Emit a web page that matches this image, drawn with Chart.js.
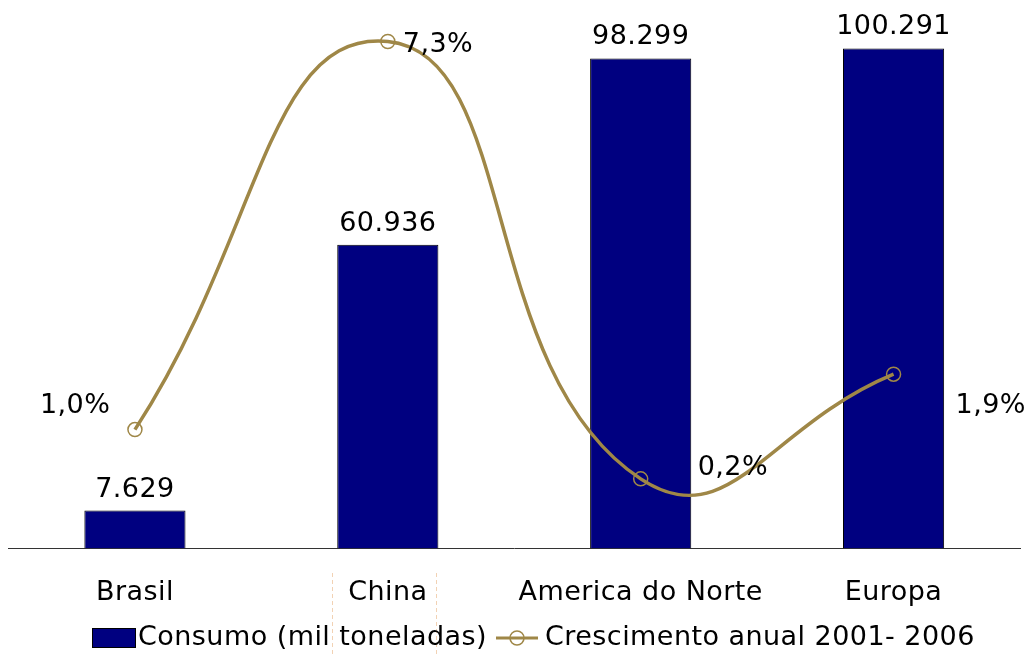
<!DOCTYPE html>
<html>
<head>
<meta charset="utf-8">
<script src="https://cdn.jsdelivr.net/npm/chart.js@4.4.0/dist/chart.umd.min.js"></script>
<style>
  body { margin: 0; background: #fff; }
  #c { display: block; }
</style>
</head>
<body>
<canvas id="c" width="1029" height="654"></canvas>
<script>
const regions = ["Brasil", "China", "America do Norte", "Europa"];
const consumo = [7629, 60936, 98299, 100291];
const crescimento = [1.0, 7.3, 0.2, 1.9];
const consumoLabels = ["7.629", "60.936", "98.299", "100.291"];
const crescimentoLabels = ["1,0%", "7,3%", "0,2%", "1,9%"];

// where each growth label sits relative to its point (text left edge, baseline)
const growthLabelOffsets = [[-95, -17], [15, 10], [57, -4], [62, 39]];

const FONT = '27px "DejaVu Sans"';
const GOLD = '#9F8747';
const NAVY = '#000080';
const SPACING = '0.45px';

const labelsPlugin = {
  id: 'valueLabels',
  beforeDraw(chart) {
    chart.ctx.letterSpacing = SPACING;
  },
  afterDatasetsDraw(chart) {
    const ctx = chart.ctx;
    ctx.save();
    ctx.letterSpacing = SPACING;
    ctx.font = FONT;
    ctx.fillStyle = '#000';
    ctx.textBaseline = 'alphabetic';
    // bar values
    const bars = chart.getDatasetMeta(1).data;
    bars.forEach((b, i) => {
      ctx.textAlign = 'center';
      ctx.fillText(consumoLabels[i], b.x, b.y - 14);
    });
    // growth values
    const pts = chart.getDatasetMeta(0).data;
    pts.forEach((p, i) => {
      ctx.textAlign = 'left';
      ctx.fillText(crescimentoLabels[i], p.x + growthLabelOffsets[i][0], p.y + growthLabelOffsets[i][1]);
    });
    ctx.restore();
  },
  afterDraw(chart) {
    const ctx = chart.ctx;
    ctx.save();
    ctx.letterSpacing = SPACING;
    // faint guide lines around China label
    ctx.strokeStyle = '#F2D2B4';
    ctx.lineWidth = 1;
    ctx.setLineDash([4, 3]);
    [332, 436].forEach(x => {
      ctx.beginPath();
      ctx.moveTo(x + 0.5, 573);
      ctx.lineTo(x + 0.5, 654);
      ctx.stroke();
    });
    ctx.setLineDash([]);
    // legend
    const ds = chart.data.datasets;
    const y = 638;
    ctx.font = FONT;
    ctx.textBaseline = 'middle';
    ctx.textAlign = 'left';
    ctx.fillStyle = NAVY;
    ctx.fillRect(92, 628, 44, 20);
    ctx.strokeStyle = '#000';
    ctx.lineWidth = 1;
    ctx.strokeRect(92.5, 628.5, 43, 19);
    ctx.fillStyle = '#000';
    ctx.fillText(ds[1].label, 138, y);
    ctx.strokeStyle = GOLD;
    ctx.lineWidth = 3;
    ctx.beginPath();
    ctx.moveTo(496, y);
    ctx.lineTo(538, y);
    ctx.stroke();
    ctx.lineWidth = 1.5;
    ctx.beginPath();
    ctx.arc(517, y, 7, 0, Math.PI * 2);
    ctx.stroke();
    ctx.fillStyle = '#000';
    ctx.fillText(ds[0].label, 545, y);
    ctx.restore();
  }
};

new Chart(document.getElementById('c'), {
  data: {
    labels: regions,
    datasets: [
      {
        type: 'line',
        label: 'Crescimento anual 2001- 2006',
        data: crescimento,
        yAxisID: 'y2',
        borderColor: GOLD,
        borderWidth: 3.5,
        tension: 0.5,
        pointRadius: 7,
        pointBorderWidth: 1.5,
        pointBorderColor: GOLD,
        pointBackgroundColor: 'rgba(0,0,0,0)',
        order: 0
      },
      {
        type: 'bar',
        label: 'Consumo (mil toneladas)',
        data: consumo,
        yAxisID: 'y',
        backgroundColor: NAVY,
        borderColor: '#000',
        borderWidth: 1,
        categoryPercentage: 1,
        barPercentage: 0.4,
        order: 1
      }
    ]
  },
  options: {
    responsive: false,
    animation: false,
    devicePixelRatio: 1,
    layout: { padding: { left: 6, right: 9, top: 8, bottom: 17 } },
    plugins: {
      legend: { display: false },
      tooltip: { enabled: false }
    },
    scales: {
      x: {
        offset: true,
        grid: { display: false, drawTicks: false },
        border: { display: true, color: '#333', width: 1 },
        ticks: { color: '#000', font: { family: 'DejaVu Sans', size: 27 }, padding: 28, maxRotation: 0 }
      },
      y: { display: false, min: 0, max: 108300 },
      y2: { display: false, min: -0.932, max: 7.836 }
    }
  },
  plugins: [labelsPlugin]
});
</script>
</body>
</html>
